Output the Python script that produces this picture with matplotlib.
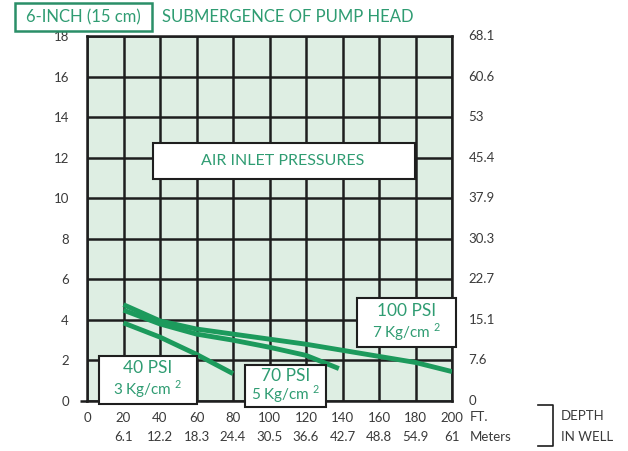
import matplotlib.pyplot as plt
from matplotlib.patches import Rectangle
from matplotlib.lines import Line2D

plt.rcParams['font.family'] = ['Lato', 'DejaVu Sans']

# submergence curves (depth in ft, submergence in ft)
depth_100 = [20, 40, 60, 80, 100, 120, 140, 160, 180, 200]
sub_100 = [4.75, 3.95, 3.55, 3.3, 3.05, 2.8, 2.5, 2.2, 1.9, 1.45]
depth_70 = [20, 40, 60, 80, 100, 120, 138]
sub_70 = [4.48, 3.8, 3.3, 3.0, 2.65, 2.25, 1.6]
depth_40 = [20, 40, 60, 80]
sub_40 = [3.85, 3.15, 2.3, 1.35]

ft_ticks = [0, 20, 40, 60, 80, 100, 120, 140, 160, 180, 200]
m_labels = ['', '6.1', '12.2', '18.3', '24.4', '30.5', '36.6', '42.7', '48.8', '54.9', '61']
y_ticks = [0, 2, 4, 6, 8, 10, 12, 14, 16, 18]
y_right = ['0', '7.6', '15.1', '22.7', '30.3', '37.9', '45.4', '53', '60.6', '68.1']

GREEN = '#1c9a5c'
TXT_GREEN = '#2f9c72'
GRAY = '#3a3a3a'
SUP2 = r'$^{\mathregular{2}}$'

W, H = 628, 451
fig = plt.figure(figsize=(W / 100, H / 100), dpi=100)
fig.patch.set_facecolor('white')

def fx(px):
    return px / W

def fy(py):
    return 1 - py / H

ax = fig.add_axes([fx(87), fy(401), (452 - 87) / W, (401 - 36) / H])
ax.set_facecolor('#deeee3')
ax.set_xlim(0, 200)
ax.set_ylim(0, 18)
ax.set_xticks(ft_ticks)
ax.set_yticks(y_ticks)
ax.grid(True, color='#1e1e1e', linewidth=1.8)
ax.set_axisbelow(True)
for s in ax.spines.values():
    s.set_color('#1e1e1e')
    s.set_linewidth(1.8)
ax.tick_params(axis='x', length=0, pad=8, labelsize=9.5, labelcolor=GRAY)
ax.tick_params(axis='y', length=5, width=1.8, color='#1e1e1e', pad=8,
               labelsize=9.5, labelcolor=GRAY)
ax.set_xticklabels([str(v) for v in ft_ticks])
for i, t in enumerate(ax.yaxis.get_major_ticks()):
    t.tick1line.set_visible(i == 0)

# metres row under the feet labels
for x, lab in zip(ft_ticks, m_labels):
    ax.annotate(lab, xy=(x, 0), xycoords='data', xytext=(0, -26),
                textcoords='offset points', ha='center', va='center',
                fontsize=9.5, color=GRAY, annotation_clip=False)

# right-hand scale
for y, lab in zip(y_ticks, y_right):
    ax.annotate(lab, xy=(200, y), xycoords='data', xytext=(12, 0),
                textcoords='offset points', ha='left', va='center',
                fontsize=9.5, color=GRAY, annotation_clip=False)

for xs, ys in [(depth_100, sub_100), (depth_70, sub_70), (depth_40, sub_40)]:
    ax.plot(xs, ys, color=GREEN, linewidth=3.5, solid_capstyle='butt', zorder=3)

def label_box(x0, x1, y0, y1, line1, line2, size1=12.5, size2=11):
    ax.add_patch(Rectangle((x0, y0), x1 - x0, y1 - y0, facecolor='white',
                           edgecolor='#1e1e1e', linewidth=1.5, zorder=5,
                           clip_on=False))
    xc = (x0 + x1) / 2
    h = y1 - y0
    ax.text(xc, y0 + h * 0.74, line1, ha='center', va='center', fontsize=size1,
            color=TXT_GREEN, zorder=6)
    ax.text(xc, y0 + h * 0.3, line2, ha='center', va='center', fontsize=size2,
            color=TXT_GREEN, zorder=6)

label_box(148, 202, 2.66, 5.08, '100 PSI', '7 Kg/cm ' + SUP2)
label_box(6.6, 60.3, -0.15, 2.22, '40 PSI', '3 Kg/cm ' + SUP2)
label_box(86.6, 131, -0.3, 1.78, '70 PSI', '5 Kg/cm ' + SUP2)

ax.add_patch(Rectangle((36.2, 10.95), 179.7 - 36.2, 12.72 - 10.95,
                       facecolor='white', edgecolor='#1e1e1e', linewidth=1.5,
                       zorder=5))
ax.text(107.4, 11.83, 'AIR INLET PRESSURES', ha='center', va='center',
        fontsize=11.5, color=TXT_GREEN, zorder=6)

# heading
fig.patches.append(Rectangle((fx(15), fy(31)), fx(152) - fx(15), fy(3) - fy(31),
                             transform=fig.transFigure, facecolor='white',
                             edgecolor='#2a8f68', linewidth=1.8))
fig.text(fx(83), fy(17), '6-INCH (15 cm)', ha='center', va='center',
         fontsize=12, color=TXT_GREEN)
fig.text(fx(162), fy(17), 'SUBMERGENCE OF PUMP HEAD', ha='left', va='center',
         fontsize=12, color=TXT_GREEN)

# axis captions on the right
fig.text(fx(470), fy(417), 'FT.', ha='left', va='center', fontsize=9.5, color=GRAY)
fig.text(fx(470), fy(437), 'Meters', ha='left', va='center', fontsize=9.5, color=GRAY)
fig.lines.append(Line2D([fx(538), fx(553), fx(553), fx(538)],
                        [fy(405), fy(405), fy(446), fy(446)],
                        transform=fig.transFigure, color='#1e1e1e', linewidth=1.2))
fig.text(fx(561), fy(416), 'DEPTH', ha='left', va='center', fontsize=9.5, color=GRAY)
fig.text(fx(561), fy(437), 'IN WELL', ha='left', va='center', fontsize=9.5, color=GRAY)

fig.savefig('out.png', dpi=100)
